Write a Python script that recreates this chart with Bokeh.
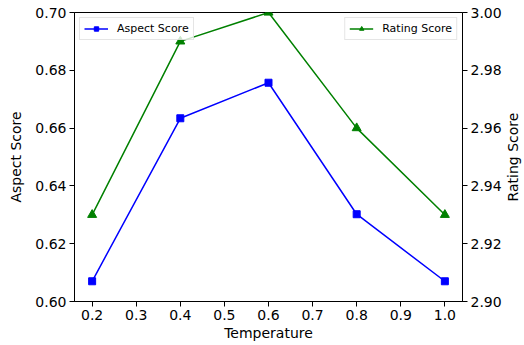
import math
from bokeh.plotting import figure
from bokeh.models import Range1d, LinearAxis, Legend, LegendItem, FixedTicker, PrintfTickFormatter, Label
from bokeh.embed import file_html
from bokeh.resources import INLINE

temperature = [0.2, 0.4, 0.6, 0.8, 1.0]
aspect_score = [0.607, 0.6634, 0.6757, 0.6302, 0.607]
rating_score = [2.93, 2.99, 3.00, 2.96, 2.93]

x_ticks = [0.2, 0.3, 0.4, 0.5, 0.6, 0.7, 0.8, 0.9, 1.0]
left_ticks = [0.60, 0.62, 0.64, 0.66, 0.68, 0.70]
right_ticks = [2.90, 2.92, 2.94, 2.96, 2.98, 3.00]

FONT = "DejaVu Sans"
W, H = 524, 345
BL, BR, BT, BB = 74, 62, 12, 44

p = figure(width=W, height=H, output_backend="svg", toolbar_location=None,
           x_range=Range1d(0.16, 1.04), y_range=Range1d(0.60, 0.70),
           min_border_left=BL, min_border_right=BR, min_border_top=BT, min_border_bottom=BB)
p.extra_y_ranges = {"rating": Range1d(2.90, 3.00)}

p.xgrid.visible = False
p.ygrid.visible = False
p.outline_line_color = "black"
p.outline_line_width = 1
p.background_fill_color = "white"
p.border_fill_color = "white"

right_axis = LinearAxis(y_range_name="rating")
p.add_layout(right_axis, "right")

p.xaxis.ticker = FixedTicker(ticks=x_ticks)
p.xaxis.formatter = PrintfTickFormatter(format="%.1f")
p.yaxis[0].ticker = FixedTicker(ticks=left_ticks)
p.yaxis[0].formatter = PrintfTickFormatter(format="%.2f")
right_axis.ticker = FixedTicker(ticks=right_ticks)
right_axis.formatter = PrintfTickFormatter(format="%.2f")

p.xaxis.axis_label = "Temperature"
p.yaxis[0].axis_label = "Aspect Score"

for ax in [p.xaxis[0], p.yaxis[0], right_axis]:
    ax.major_label_text_font = FONT
    ax.major_label_text_font_size = "14px"
    ax.major_label_text_color = "black"
    ax.axis_label_text_font = FONT
    ax.axis_label_text_font_size = "14px"
    ax.axis_label_text_font_style = "normal"
    ax.axis_label_text_color = "black"
    ax.axis_line_color = "black"
    ax.major_tick_line_color = "black"
    ax.major_tick_out = 5
    ax.major_tick_in = 0
    ax.minor_tick_line_color = None
    ax.major_label_standoff = 3

p.xaxis[0].axis_label_standoff = 2
p.yaxis[0].axis_label_standoff = 8

frame_h = H - BT - BB
right_label = Label(x=8, y=frame_h / 2, x_units="screen", y_units="screen",
                    text="Rating Score", angle=math.pi / 2, text_align="center",
                    text_baseline="middle", text_font=FONT, text_font_size="14px",
                    text_color="black")
p.add_layout(right_label, "right")

l1 = p.line(temperature, aspect_score, color="#0000ff", line_width=1.5)
s1 = p.scatter(temperature, aspect_score, marker="square", size=7, color="#0000ff")
l2 = p.line(temperature, rating_score, color="#008000", line_width=1.5, y_range_name="rating")
s2 = p.scatter(temperature, rating_score, marker="triangle", size=9, color="#008000", y_range_name="rating")

def make_legend(label, rends, loc):
    lg = Legend(items=[LegendItem(label=label, renderers=rends)], location=loc)
    lg.label_text_font = FONT
    lg.label_text_font_size = "11px"
    lg.label_text_color = "black"
    lg.border_line_color = "#cccccc"
    lg.border_line_width = 1
    lg.background_fill_alpha = 0.8
    lg.padding = 4
    lg.margin = 5
    lg.spacing = 0
    lg.glyph_width = 24
    lg.glyph_height = 11
    lg.label_standoff = 9
    lg.label_height = 11
    return lg

p.add_layout(make_legend("Aspect Score", [l1, s1], "top_left"), "center")
p.add_layout(make_legend("Rating Score", [l2, s2], "top_right"), "center")

open("out.html", "w").write(file_html(p, INLINE))
